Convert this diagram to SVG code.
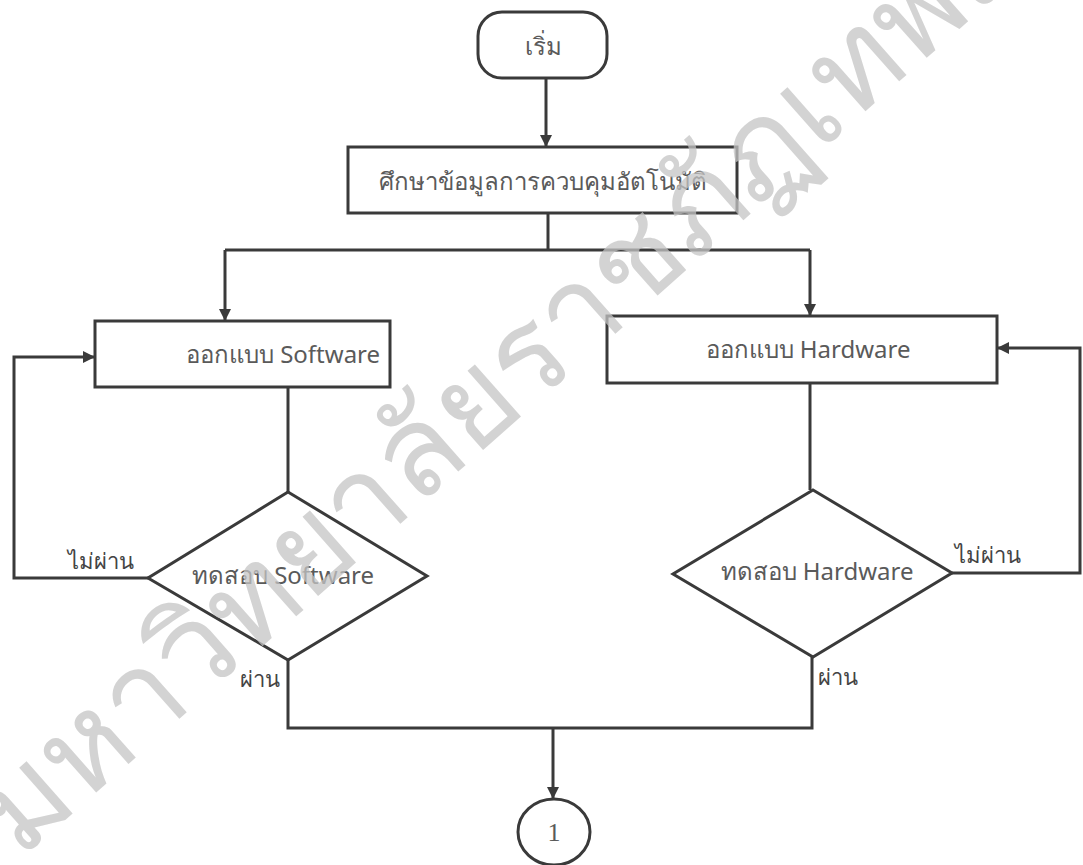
<svg xmlns="http://www.w3.org/2000/svg" width="1083" height="865" viewBox="0 0 1083 865">
<defs>
<style>
.shape{fill:#fff;stroke:#3a3a3a;stroke-width:3}
.line{fill:none;stroke:#3a3a3a;stroke-width:3}
.t{font-family:"Noto Sans","Open Sans","DejaVu Sans",sans-serif;font-size:24px;fill:#5a5a5a;text-anchor:middle;dominant-baseline:central}
.lbl{font-family:"Noto Sans","Open Sans","DejaVu Sans",sans-serif;font-size:22px;fill:#444;dominant-baseline:central}
.wm{font-family:"Noto Sans","DejaVu Sans",sans-serif;font-size:125px;font-weight:300;fill:#c4c4c4;fill-opacity:0.75}
</style>
<marker id="arr" viewBox="0 0 12 12" refX="11" refY="6" markerWidth="12" markerHeight="12" markerUnits="userSpaceOnUse" orient="auto">
<path d="M0,0 L12,6 L0,12 z" fill="#3a3a3a"/>
</marker>
</defs>
<rect width="1083" height="865" fill="#fff"/>
<g id="connectors">
<line class="line" x1="546" y1="78" x2="546" y2="146" marker-end="url(#arr)"/>
<polyline class="line" points="548,213 548,250"/>
<polyline class="line" points="225,250 810,250"/>
<line class="line" x1="225" y1="250" x2="225" y2="320" marker-end="url(#arr)"/>
<line class="line" x1="810" y1="250" x2="810" y2="315" marker-end="url(#arr)"/>
<line class="line" x1="288" y1="387" x2="288" y2="492"/>
<line class="line" x1="810" y1="383" x2="810" y2="490"/>
<polyline class="line" points="148,578 14,578 14,357 94,357" marker-end="url(#arr)"/>
<polyline class="line" points="952,573 1080,573 1080,348 998,348" marker-end="url(#arr)"/>
<polyline class="line" points="288,660 288,728 812,728 812,657"/>
<line class="line" x1="553" y1="728" x2="553" y2="798" marker-end="url(#arr)"/>
</g>
<g id="start"><rect class="shape" x="478" y="12" width="129" height="66" rx="24"/><text class="t" x="543" y="45">เริ่ม</text></g>
<g id="study"><rect class="shape" x="348" y="147" width="389" height="66"/><text class="t" x="543" y="180">ศึกษาข้อมูลการควบคุมอัตโนมัติ</text></g>
<g id="design-sw"><rect class="shape" x="95" y="321" width="295" height="66"/><text class="t" x="283" y="353">ออกแบบ Software</text></g>
<g id="design-hw"><rect class="shape" x="607" y="316" width="390" height="67"/><text class="t" x="808" y="348">ออกแบบ Hardware</text></g>
<g id="test-sw"><polygon class="shape" points="288,492 427,576 288,660 148,578"/><text class="t" x="283" y="574">ทดสอบ Software</text></g>
<g id="test-hw"><polygon class="shape" points="813,490 952,573 813,657 673,574"/><text class="t" x="817" y="570">ทดสอบ Hardware</text></g>
<g id="connector-1"><ellipse class="shape" cx="554" cy="832" rx="36" ry="33"/><text class="t" x="554" y="832" style="font-family:'Liberation Serif',serif;font-size:26px">1</text></g>
<g id="labels">
<text class="lbl" x="68" y="560">ไม่ผ่าน</text>
<text class="lbl" x="955" y="554">ไม่ผ่าน</text>
<text class="lbl" x="240" y="678">ผ่าน</text>
<text class="lbl" x="818" y="676">ผ่าน</text>
</g>
<g id="watermark"><text class="wm" transform="translate(20,860) rotate(-41.5)">มหาวิทยาลัยราชภัฏเทพสตรี</text></g>
</svg>
